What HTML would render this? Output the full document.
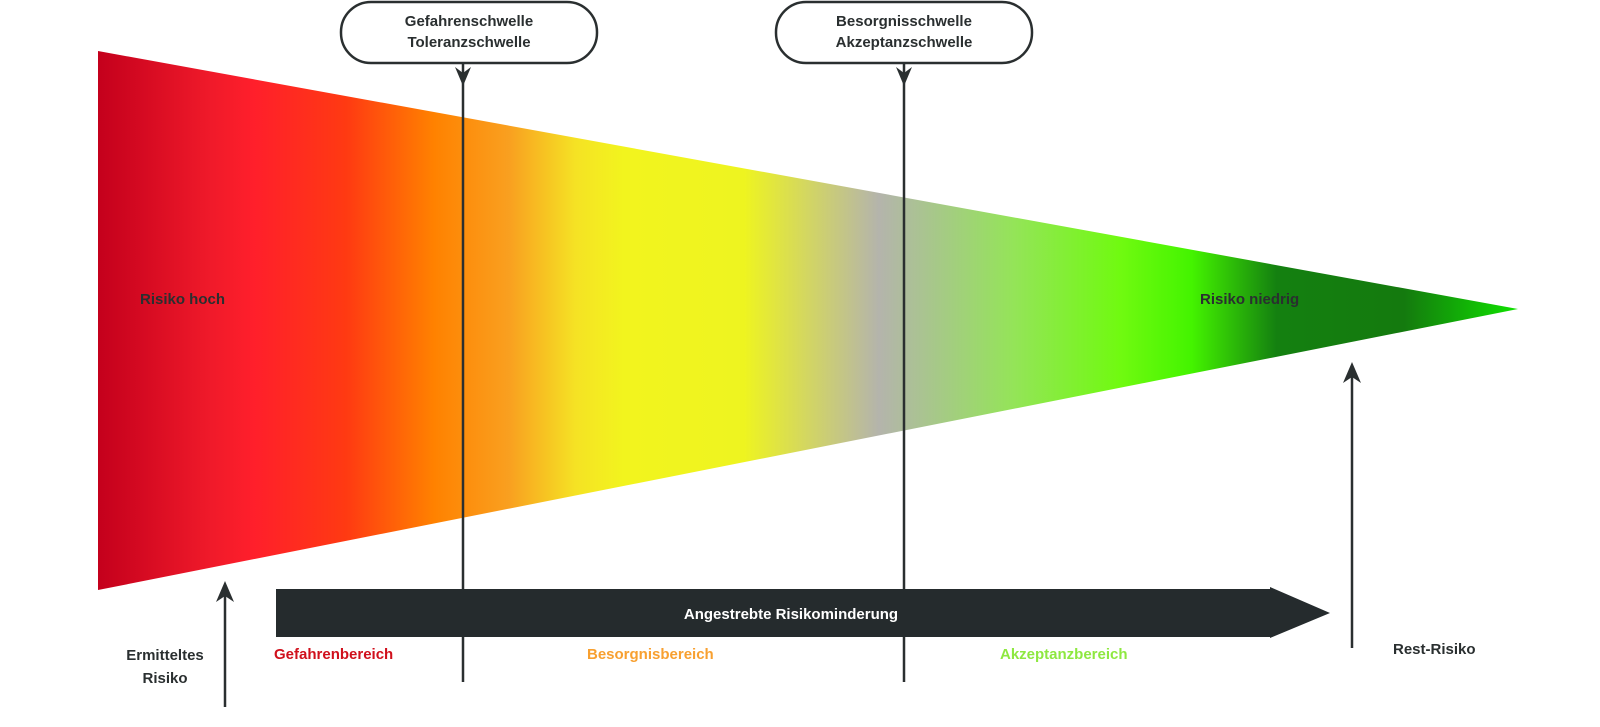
<!DOCTYPE html>
<html><head><meta charset="utf-8"><style>
html,body{margin:0;padding:0;background:#fff;width:1600px;height:727px;overflow:hidden}
svg{display:block}
text{font-family:"Liberation Sans",sans-serif;font-weight:bold;font-size:15px}
</style></head><body>
<svg width="1600" height="727" viewBox="0 0 1600 727">
<defs>
<linearGradient id="g" gradientUnits="userSpaceOnUse" x1="98" y1="0" x2="1518" y2="0">
<stop offset="0" stop-color="#c4001c"/>
<stop offset="0.08" stop-color="#f01a2a"/>
<stop offset="0.11" stop-color="#ff1f2b"/>
<stop offset="0.175" stop-color="#ff3a12"/>
<stop offset="0.237" stop-color="#ff8200"/>
<stop offset="0.29" stop-color="#f9a020"/>
<stop offset="0.336" stop-color="#f5e224"/>
<stop offset="0.37" stop-color="#f2f41e"/>
<stop offset="0.455" stop-color="#eef420"/>
<stop offset="0.55" stop-color="#b4b4ac"/>
<stop offset="0.645" stop-color="#94e458"/>
<stop offset="0.72" stop-color="#70fa10"/>
<stop offset="0.77" stop-color="#44f400"/>
<stop offset="0.83" stop-color="#148010"/>
<stop offset="0.92" stop-color="#147a0e"/>
<stop offset="1" stop-color="#10e200"/>
</linearGradient>
</defs>
<polygon points="98,51 1518,309 98,590" fill="url(#g)"/>
<text x="140" y="304" fill="#2a2f30">Risiko hoch</text>
<text x="1200" y="304" fill="#2a2f30">Risiko niedrig</text>

<rect x="341" y="2" width="256" height="61" rx="30" ry="30" fill="#fff" stroke="#2a2f30" stroke-width="2.5"/>
<text x="469" y="26" text-anchor="middle" fill="#2a2f30">Gefahrenschwelle</text>
<text x="469" y="47" text-anchor="middle" fill="#2a2f30">Toleranzschwelle</text>
<rect x="776" y="2" width="256" height="61" rx="30" ry="30" fill="#fff" stroke="#2a2f30" stroke-width="2.5"/>
<text x="904" y="26" text-anchor="middle" fill="#2a2f30">Besorgnisschwelle</text>
<text x="904" y="47" text-anchor="middle" fill="#2a2f30">Akzeptanzschwelle</text>

<line x1="463" y1="64" x2="463" y2="682" stroke="#2a2f30" stroke-width="2.5"/>
<polygon points="455,67 463,73 471,67 463,86" fill="#2a2f30"/>
<line x1="904" y1="64" x2="904" y2="682" stroke="#2a2f30" stroke-width="2.5"/>
<polygon points="896,67 904,73 912,67 904,86" fill="#2a2f30"/>

<polygon points="276,589 1270,589 1270,587 1330,613 1270,638 1270,637 276,637" fill="#252b2d"/>
<text x="791" y="619" text-anchor="middle" fill="#fff">Angestrebte Risikominderung</text>

<line x1="225" y1="590" x2="225" y2="707" stroke="#2a2f30" stroke-width="2.5"/>
<polygon points="216,602 225,581 234,602 225,596" fill="#2a2f30"/>
<line x1="1352" y1="372" x2="1352" y2="648" stroke="#2a2f30" stroke-width="2.5"/>
<polygon points="1343,383 1352,362 1361,383 1352,377" fill="#2a2f30"/>

<text x="165" y="660" text-anchor="middle" fill="#2a2f30">Ermitteltes</text>
<text x="165" y="683" text-anchor="middle" fill="#2a2f30">Risiko</text>
<text x="274" y="659" fill="#d0101c">Gefahrenbereich</text>
<text x="587" y="659" fill="#f8a030">Besorgnisbereich</text>
<text x="1000" y="659" fill="#8ee840">Akzeptanzbereich</text>
<text x="1393" y="654" fill="#2a2f30">Rest-Risiko</text>
</svg>
</body></html>
